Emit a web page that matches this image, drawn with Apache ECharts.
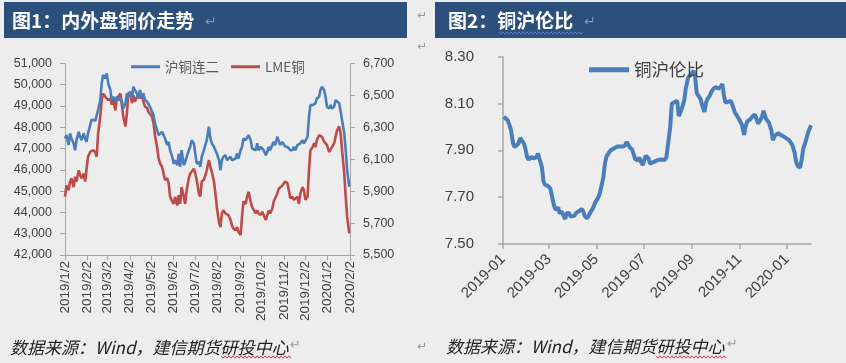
<!DOCTYPE html>
<html>
<head>
<meta charset="utf-8">
<script src="https://cdn.jsdelivr.net/npm/echarts@6/dist/echarts.min.js"></script>
<style>
html,body{margin:0;padding:0;background:#ededee;}
#c{width:846px;height:363px;}
</style>
</head>
<body>
<div id="c"></div>
<script>
// ---------- data ----------
const dates = ['2019-01-02','2019-01-04','2019-01-07','2019-01-09','2019-01-11','2019-01-14','2019-01-16','2019-01-18','2019-01-21','2019-01-23',
'2019-01-25','2019-01-28','2019-01-30','2019-02-01','2019-02-03','2019-02-06','2019-02-08','2019-02-10','2019-02-13','2019-02-15',
'2019-02-17','2019-02-20','2019-02-22','2019-02-24','2019-02-27','2019-03-01','2019-03-03','2019-03-06','2019-03-08','2019-03-10',
'2019-03-13','2019-03-15','2019-03-17','2019-03-20','2019-03-22','2019-03-24','2019-03-27','2019-03-29','2019-03-31','2019-04-03',
'2019-04-05','2019-04-07','2019-04-09','2019-04-12','2019-04-14','2019-04-16','2019-04-19','2019-04-21','2019-04-23','2019-04-26',
'2019-04-28','2019-04-30','2019-05-03','2019-05-05','2019-05-07','2019-05-10','2019-05-12','2019-05-14','2019-05-17','2019-05-19',
'2019-05-21','2019-05-24','2019-05-26','2019-05-28','2019-05-31','2019-06-02','2019-06-04','2019-06-07','2019-06-09','2019-06-11',
'2019-06-13','2019-06-16','2019-06-18','2019-06-20','2019-06-23','2019-06-25','2019-06-27','2019-06-30','2019-07-02','2019-07-04',
'2019-07-07','2019-07-09','2019-07-11','2019-07-14','2019-07-16','2019-07-18','2019-07-21','2019-07-23','2019-07-25','2019-07-28',
'2019-07-30','2019-08-01','2019-08-04','2019-08-06','2019-08-08','2019-08-10','2019-08-13','2019-08-15','2019-08-17','2019-08-20',
'2019-08-22','2019-08-24','2019-08-27','2019-08-29','2019-08-31','2019-09-03','2019-09-05','2019-09-07','2019-09-10','2019-09-12',
'2019-09-14','2019-09-17','2019-09-19','2019-09-21','2019-09-24','2019-09-26','2019-09-28','2019-10-01','2019-10-03','2019-10-05',
'2019-10-08','2019-10-10','2019-10-12','2019-10-14','2019-10-17','2019-10-19','2019-10-21','2019-10-24','2019-10-26','2019-10-28',
'2019-10-31','2019-11-02','2019-11-04','2019-11-07','2019-11-09','2019-11-11','2019-11-14','2019-11-16','2019-11-18','2019-11-21',
'2019-11-23','2019-11-25','2019-11-28','2019-11-30','2019-12-02','2019-12-05','2019-12-07','2019-12-09','2019-12-12','2019-12-14',
'2019-12-16','2019-12-18','2019-12-21','2019-12-23','2019-12-25','2019-12-28','2019-12-30','2020-01-01','2020-01-04','2020-01-06',
'2020-01-08','2020-01-11','2020-01-13','2020-01-15','2020-01-18','2020-01-20','2020-01-22','2020-01-25','2020-01-27','2020-01-29',
'2020-02-01'];

// 沪铜连二 (left axis)
const shfeCopper = [47470,47630,47160,47710,47470,47240,46920,47390,47780,47550,
47390,47710,47470,47310,47710,48100,48360,48360,48300,48300,
48800,49270,50060,50450,50290,50530,50060,49750,49270,49430,
49200,49430,49270,49350,49200,48880,49120,49590,49430,49670,
49350,49900,49750,49590,49350,49750,49350,49590,49270,49200,
49120,48960,48730,48570,48180,47860,47630,47550,47780,47710,
47470,47160,47310,46920,46610,46290,46450,46220,46760,46140,
46920,46220,46370,46450,46920,47080,47390,47240,46760,46290,
46370,46140,46610,46920,46920,47390,48020,47470,47240,47080,
46920,46760,46450,45980,46450,46610,46690,46450,46530,46610,
46450,46370,46530,46760,46530,46920,47080,47470,47390,47470,
47630,47390,47000,47080,46920,47240,46920,47080,47000,46920,
46690,46840,47080,46920,47160,47310,47160,47550,47470,47160,
47310,47240,47080,47080,47160,46920,46920,47080,46920,47160,
47080,47240,47390,47240,47160,47550,48490,49040,49040,48960,
49120,49350,49430,49750,49900,49750,49430,48960,48880,49040,
48880,48960,49270,49350,49120,48730,48330,47710,46920,45980,
45200];

// LME铜 (right axis)
const lmeCopper = [5865,5935,5905,5960,5980,5925,5990,5960,6030,6000,
5980,6010,5960,6040,6115,6145,6155,6155,6145,6115,
6260,6365,6470,6510,6490,6500,6470,6480,6440,6480,
6405,6480,6470,6510,6440,6365,6305,6385,6510,6520,
6450,6500,6460,6490,6510,6480,6500,6460,6430,6420,
6395,6385,6365,6325,6250,6175,6105,6075,6050,6040,
5970,5980,5950,5865,5835,5820,5865,5810,5875,5820,
5925,5865,5820,5905,5980,6010,6000,6040,6010,5970,
5885,5865,5960,5970,5980,6030,6095,6050,6020,5960,
5885,5800,5705,5675,5760,5780,5760,5770,5750,5720,
5685,5665,5655,5675,5645,5625,5740,5835,5820,5865,
5895,5835,5800,5790,5760,5780,5760,5750,5770,5760,
5720,5750,5780,5760,5790,5835,5845,5885,5915,5905,
5935,5925,5960,5950,5905,5855,5865,5845,5835,5865,
5820,5885,5925,5905,5845,5865,6030,6155,6175,6200,
6175,6220,6250,6260,6240,6210,6220,6190,6145,6135,
6175,6200,6240,6280,6305,6260,6155,6010,5865,5740,
5635];

// 铜沪伦比
const ratio = [8.043,8.039,8.029,8.011,7.990,7.929,7.914,7.921,7.929,7.953,
7.960,7.929,7.904,7.871,7.860,7.871,7.871,7.866,7.871,7.886,
7.863,7.829,7.769,7.753,7.750,7.750,7.736,7.686,7.660,7.646,
7.656,7.629,7.641,7.619,7.607,7.633,7.631,7.617,7.614,7.621,
7.633,7.630,7.641,7.650,7.641,7.620,7.609,7.619,7.633,7.649,
7.664,7.680,7.696,7.711,7.739,7.783,7.843,7.873,7.889,7.899,
7.900,7.909,7.904,7.916,7.917,7.920,7.916,7.921,7.936,7.941,
7.913,7.904,7.907,7.863,7.857,7.869,7.853,7.837,7.864,7.877,
7.866,7.843,7.837,7.851,7.857,7.857,7.860,7.860,7.861,7.859,
7.869,7.869,8.000,8.099,8.094,8.107,8.111,8.046,8.061,8.090,
8.114,8.164,8.211,8.206,8.226,8.240,8.217,8.146,8.129,8.120,
8.093,8.064,8.104,8.120,8.134,8.150,8.161,8.170,8.166,8.164,
8.171,8.183,8.136,8.104,8.107,8.103,8.111,8.083,8.063,8.060,
8.036,8.040,8.011,7.966,8.003,8.024,8.030,8.037,8.046,8.053,
8.050,8.014,8.031,8.043,8.069,8.036,8.029,8.017,7.986,7.943,
7.960,7.967,7.974,7.970,7.964,7.959,7.951,7.950,7.943,7.947,
7.923,7.889,7.850,7.833,7.826,7.860,7.906,7.936,7.961,7.983,
8.007];

const leftDateTicks = ['2019/1/2','2019/2/2','2019/3/2','2019/4/2','2019/5/2','2019/6/2','2019/7/2',
'2019/8/2','2019/9/2','2019/10/2','2019/11/2','2019/12/2','2020/1/2','2020/2/2'];
const shfeTicks = [42000,43000,44000,45000,46000,47000,48000,49000,50000,51000];
const lmeTicks = [5500,5700,5900,6100,6300,6500,6700];
const ratioTicks = [7.5,7.7,7.9,8.1,8.3];
const rightDateTicks = ['2019-01','2019-03','2019-05','2019-07','2019-09','2019-11','2020-01'];
const rightAxisEnd = '2020-02';

// ---------- helpers ----------
function isoDate(s){const p=s.split('-').map(Number);return new Date(p[0],p[1]-1,p[2]||1).getTime();}
function slashDate(s){const p=s.split('/').map(Number);return new Date(p[0],p[1]-1,p[2]).getTime();}
const leftTickVals = leftDateTicks.map(slashDate);
const rightTickVals = rightDateTicks.map(isoDate);
const dateVals = dates.map(isoDate);
function nearestLabel(vals, labels, v){
  let bi=0,bd=Infinity;
  vals.forEach((t,i)=>{const d=Math.abs(t-v); if(d<bd){bd=d;bi=i;}});
  return labels[bi];
}
function comma(v){return Math.round(v).toLocaleString('en-US');}
function wave(x0,x1,y){
  const pts=[];let up=true;
  for(let x=x0;x<=x1;x+=2){pts.push([x,y+(up?-1.2:1.2)]);up=!up;}
  return pts;
}

const CJK = '"Noto Sans CJK SC", "Liberation Sans", sans-serif';
const NUM = '"Liberation Sans", Arial, sans-serif';
const axisGray = '#a6a6a6';
const labelColor = '#404040';

const chart = echarts.init(document.getElementById('c'), null, {renderer:'canvas'});

const option = {
  backgroundColor: '#ededee',
  animation: false,
  grid: [
    {left:65, top:63.3, width:285, height:191.7},
    {left:503, top:56.7, width:308, height:187.3}
  ],
  legend: [
    {
      data:['沪铜连二','LME铜'], left:126, top:55, icon:'rect',
      itemWidth:29, itemHeight:3, itemGap:12,
      textStyle:{fontSize:13.5, color:'#595959', fontFamily:CJK}
    },
    {
      data:['铜沪伦比'], left:584, top:56, icon:'rect',
      itemWidth:40, itemHeight:5, itemGap:10,
      textStyle:{fontSize:17.5, color:'#404040', fontFamily:CJK}
    }
  ],
  xAxis: [
    {
      type:'value', gridIndex:0, scale:true,
      min: leftTickVals[0], max: leftTickVals[leftTickVals.length-1],
      axisLine:{show:true, lineStyle:{color:axisGray, width:1}},
      axisTick:{show:true, length:5, customValues:leftTickVals, lineStyle:{color:axisGray}},
      axisLabel:{
        customValues:leftTickVals, rotate:90, margin:6, fontSize:13.5, color:labelColor, fontFamily:NUM,
        formatter:(v)=>nearestLabel(leftTickVals,leftDateTicks,v)
      },
      splitLine:{show:false}
    },
    {
      type:'value', gridIndex:1, scale:true,
      min: rightTickVals[0], max: isoDate(rightAxisEnd),
      axisLine:{show:true, lineStyle:{color:axisGray, width:1.5}},
      axisTick:{show:true, length:5, customValues:rightTickVals, lineStyle:{color:axisGray, width:1.5}},
      axisLabel:{
        customValues:rightTickVals, rotate:45, margin:13, fontSize:15, color:labelColor, fontFamily:NUM,
        formatter:(v)=>nearestLabel(rightTickVals,rightDateTicks,v)
      },
      splitLine:{show:false}
    }
  ],
  yAxis: [
    {
      type:'value', gridIndex:0, position:'left',
      min:shfeTicks[0], max:shfeTicks[shfeTicks.length-1],
      axisLine:{show:true, lineStyle:{color:axisGray}},
      axisTick:{show:true, length:5, customValues:shfeTicks, lineStyle:{color:axisGray}},
      axisLabel:{customValues:shfeTicks, margin:13, fontSize:12.5, color:labelColor, fontFamily:NUM, formatter:comma},
      splitLine:{show:false}
    },
    {
      type:'value', gridIndex:0, position:'right',
      min:lmeTicks[0], max:lmeTicks[lmeTicks.length-1],
      axisLine:{show:true, lineStyle:{color:axisGray}},
      axisTick:{show:true, length:5, customValues:lmeTicks, lineStyle:{color:axisGray}},
      axisLabel:{customValues:lmeTicks, margin:13, fontSize:12.5, color:labelColor, fontFamily:NUM, formatter:comma},
      splitLine:{show:false}
    },
    {
      type:'value', gridIndex:1, position:'left',
      min:ratioTicks[0], max:ratioTicks[ratioTicks.length-1],
      axisLine:{show:true, lineStyle:{color:axisGray, width:1.5}},
      axisTick:{show:true, length:5, customValues:ratioTicks, lineStyle:{color:axisGray, width:1.5}},
      axisLabel:{customValues:ratioTicks, margin:29, fontSize:15, color:labelColor, fontFamily:NUM, formatter:(v)=>v.toFixed(2)},
      splitLine:{show:false}
    }
  ],
  series: [
    {
      name:'沪铜连二', type:'line', xAxisIndex:0, yAxisIndex:0,
      data: dateVals.map((d,i)=>[d, shfeCopper[i]]),
      showSymbol:false, symbol:'none', color:'#4a7ebb',
      lineStyle:{width:2.6, color:'#4a7ebb'}, z:3
    },
    {
      name:'LME铜', type:'line', xAxisIndex:0, yAxisIndex:1,
      data: dateVals.map((d,i)=>[d, lmeCopper[i]]),
      showSymbol:false, symbol:'none', color:'#be4b48',
      lineStyle:{width:2.6, color:'#be4b48'}, z:2
    },
    {
      name:'铜沪伦比', type:'line', xAxisIndex:1, yAxisIndex:2,
      data: dateVals.map((d,i)=>[d, ratio[i]]),
      showSymbol:false, symbol:'none', color:'#4a7ebb',
      lineStyle:{width:4, color:'#4a7ebb'}
    }
  ],
  graphic: [
    {type:'rect', shape:{x:4, y:2, width:403, height:36}, style:{fill:'#2d4f7c'}, silent:true},
    {type:'rect', shape:{x:435, y:2, width:411, height:36}, style:{fill:'#2d4f7c'}, silent:true},
    {type:'text', x:12, y:21, style:{text:'图1：内外盘铜价走势', fill:'#ffffff', font:'bold 19px '+CJK, verticalAlign:'middle'}},
    {type:'text', x:205, y:22, style:{text:'↵', fill:'#8c93a3', font:'14px "DejaVu Sans"', verticalAlign:'middle'}},
    {type:'text', x:448, y:21, style:{text:'图2：铜沪伦比', fill:'#ffffff', font:'bold 19px '+CJK, verticalAlign:'middle'}},
    {type:'text', x:584, y:22, style:{text:'↵', fill:'#8c93a3', font:'14px "DejaVu Sans"', verticalAlign:'middle'}},
    {type:'polyline', shape:{points:wave(499,584,33)}, style:{stroke:'#5b7fd6', lineWidth:1, fill:null}},
    {type:'text', x:417, y:16, style:{text:'↵', fill:'#9a9a9a', font:'12px "DejaVu Sans"', verticalAlign:'middle'}},
    {type:'text', x:417, y:47, style:{text:'↵', fill:'#9a9a9a', font:'12px "DejaVu Sans"', verticalAlign:'middle'}},
    {type:'text', x:417, y:347, style:{text:'↵', fill:'#9a9a9a', font:'12px "DejaVu Sans"', verticalAlign:'middle'}},
    {type:'text', x:10, y:348, style:{text:'数据来源：Wind，建信期货研投中心', fill:'#222222', font:'italic 17px '+CJK, verticalAlign:'middle'}},
    {type:'text', x:290, y:346, style:{text:'↵', fill:'#9a9a9a', font:'13px "DejaVu Sans"', verticalAlign:'middle'}},
    {type:'polyline', shape:{points:wave(221,291,357)}, style:{stroke:'#d04040', lineWidth:1, fill:null}},
    {type:'text', x:446, y:347, style:{text:'数据来源：Wind，建信期货研投中心', fill:'#222222', font:'italic 17px '+CJK, verticalAlign:'middle'}},
    {type:'text', x:727, y:345, style:{text:'↵', fill:'#9a9a9a', font:'13px "DejaVu Sans"', verticalAlign:'middle'}},
    {type:'polyline', shape:{points:wave(656,727,357)}, style:{stroke:'#d04040', lineWidth:1, fill:null}}
  ]
};
chart.setOption(option);
</script>
</body>
</html>
